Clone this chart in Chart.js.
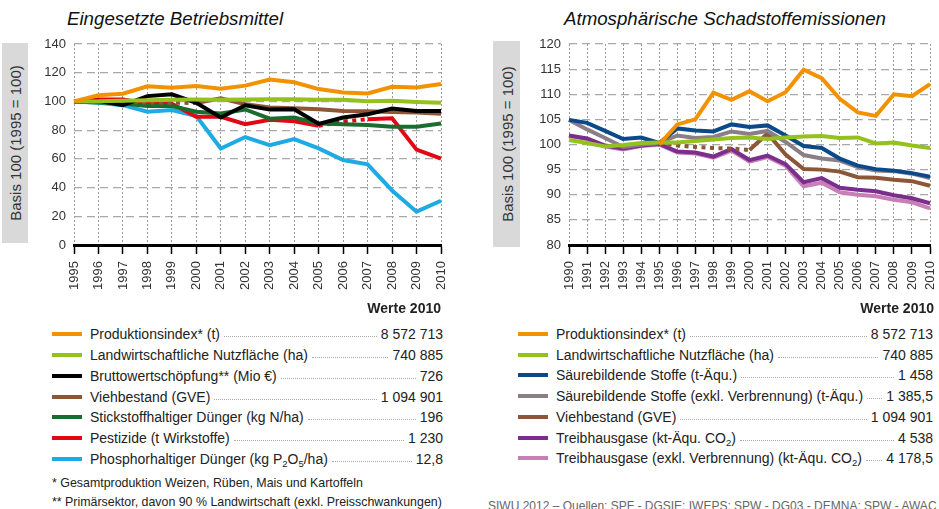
<!DOCTYPE html>
<html><head><meta charset="utf-8">
<script src="https://cdn.jsdelivr.net/npm/chart.js@4"></script>
<style>
html,body{margin:0;padding:0}
body{width:939px;height:509px;overflow:hidden;background:#fff;position:relative;font-family:"Liberation Sans",Arial,sans-serif;color:#222}
.abs{position:absolute}
.title{font-family:"Liberation Sans",Arial,sans-serif;font-style:italic;font-size:18.7px;color:#111;white-space:nowrap}
.ybox{background:#d9d9d9}
.ybox span{position:absolute;left:50%;top:50%;transform:translate(-50%,-50%) rotate(-90deg);white-space:nowrap;font-size:15px;color:#333}
.werte{font-weight:bold;font-size:14px;white-space:nowrap;text-align:right}
.legend .row{display:flex;align-items:center;height:20.75px;font-size:14px;white-space:nowrap}
.legend .sw{width:30px;height:4px;margin-right:8px;flex:none}
.legend .lead{flex:1;border-bottom:1px dotted #aaa;margin:5px 4px 0 4px;height:0}
.legend sub{font-size:9.5px;vertical-align:-3px;line-height:0}
.foot{font-size:12.4px;white-space:nowrap;color:#222}
.src{font-size:12px;white-space:nowrap;color:#666}
canvas{position:absolute}
</style>
</head><body>
<div class="abs title" style="left:67px;top:8px">Eingesetzte Betriebsmittel</div>
<div class="abs title" style="left:564px;top:8px">Atmosphärische Schadstoffemissionen</div>
<div class="abs ybox" style="left:2px;top:43px;width:26px;height:200px"><span>Basis 100 (1995 = 100)</span></div>
<div class="abs ybox" style="left:493px;top:41px;width:27px;height:206px"><span>Basis 100 (1995 = 100)</span></div>
<canvas id="c1" width="470" height="320" style="left:0;top:0"></canvas>
<canvas id="c2" width="483" height="320" style="left:470px;top:0"></canvas>
<div class="abs werte" style="right:498px;top:300px">Werte 2010</div>
<div class="abs werte" style="right:5px;top:300px">Werte 2010</div>
<div class="abs legend" id="leg1" style="left:52px;top:324px;width:391px"></div>
<div class="abs legend" id="leg2" style="left:518px;top:323.5px;width:415px"></div>
<div class="abs foot" style="left:52px;top:476px">* Gesamtproduktion Weizen, Rüben, Mais und Kartoffeln</div>
<div class="abs foot" style="left:52px;top:495px">** Primärsektor, davon 90 % Landwirtschaft (exkl. Preisschwankungen)</div>
<div class="abs src" style="left:488px;top:499px">SIWU 2012 – Quellen: SPF - DGSIE; IWEPS; SPW - DG03 - DEMNA; SPW - AWAC</div>
<script>
// ---------- Data: left chart (1995-2010) ----------
const yearsLeft = ["1995","1996","1997","1998","1999","2000","2001","2002","2003","2004","2005","2006","2007","2008","2009","2010"];
const produktionLeft = [100, 104.3, 105.4, 110.5, 109.6, 110.8, 108.8, 111.0, 115.2, 113.3, 108.6, 106.3, 105.6, 110.2, 109.7, 112.1];
const nutzflaecheLeft = [100, 100.2, 100.5, 100.9, 101.2, 101.3, 101.1, 101.3, 101.5, 101.6, 101.2, 101.2, 100.2, 100.4, 99.6, 99.1];
const bruttoLeft = [100, 100.5, 97.4, 103.7, 105.0, 99.0, 88.8, 97.3, 94.3, 94.6, 84.4, 88.8, 91.0, 95.0, 93.4, 93.4];
const viehLeft = [100, 99.8, 99.5, 99.3, 99.1, 98.9, 102.2, 98.0, 95.8, 95.2, 94.5, 93.3, 93.1, 92.7, 92.3, 91.5];
const stickstoffLeft = [100, 99.2, 98.5, 96.8, 96.8, 92.8, 91.6, 94.4, 88.0, 88.8, 84.6, 84.1, 83.6, 82.4, 82.4, 84.6];
const pestizideLeft = [100, 101.3, 101.3, 98.4, 98.4, 89.3, 89.3, 84.2, 87.2, 86.2, 83.0, 86.0, 87.6, 88.2, 66.4, 60.2];
const phosphorLeft = [100, 99.0, 97.4, 92.8, 94.0, 89.8, 67.2, 75.2, 69.6, 73.8, 67.3, 59.2, 56.2, 38.0, 23.2, 30.8];

// ---------- Data: right chart (1990-2010) ----------
const yearsRight = ["1990","1991","1992","1993","1994","1995","1996","1997","1998","1999","2000","2001","2002","2003","2004","2005","2006","2007","2008","2009","2010"];
const produktionRight = [null, null, null, null, null, 100, 104.0, 105.0, 110.3, 108.9, 110.6, 108.6, 110.4, 114.9, 113.2, 109.1, 106.4, 105.7, 110.0, 109.6, 112.0];
const nutzflaecheRight = [100.9, 100.3, 99.6, 99.9, 100.3, 100.4, 100.4, 100.7, 101.0, 101.3, 101.4, 101.1, 101.4, 101.6, 101.7, 101.3, 101.4, 100.2, 100.4, 99.8, 99.3];
const saeureRight = [104.9, 104.3, 102.7, 101.1, 101.4, 100.3, 103.2, 102.8, 102.6, 104.0, 103.5, 103.8, 101.8, 99.7, 99.3, 97.2, 95.8, 95.1, 94.8, 94.3, 93.6];
const saeureExklRight = [104.9, 103.0, 101.3, 99.5, 100.0, 100.3, 101.8, 101.3, 101.5, 102.6, 102.1, 102.7, 100.5, 97.9, 97.2, 96.8, 95.5, 94.8, 94.7, 94.2, 93.3];
const viehRight = [null, null, null, null, null, 100.3, 99.8, 99.5, 99.3, 99.2, 98.9, 102.2, 98.0, 95.1, 95.0, 94.6, 93.5, 93.4, 93.0, 92.7, 91.8];
const treibhausRight = [101.8, 101.2, 99.8, 99.2, 99.8, 100.1, 98.6, 98.4, 97.6, 99.1, 96.9, 97.8, 96.1, 92.5, 93.3, 91.4, 91.0, 90.7, 89.9, 89.3, 88.3];
const treibhausExklRight = [101.7, 101.1, 99.6, 99.0, 99.7, 100.0, 98.4, 98.2, 97.4, 98.8, 96.6, 97.5, 95.8, 91.7, 92.4, 90.5, 90.0, 89.7, 89.0, 88.5, 87.3];

// ---------- Legend text ----------
const legendLeftLabels = ["Produktionsindex* (t)","Landwirtschaftliche Nutzfläche (ha)","Bruttowertschöpfung** (Mio €)","Viehbestand (GVE)","Stickstoffhaltiger Dünger (kg N/ha)","Pestizide (t Wirkstoffe)","Phosphorhaltiger Dünger (kg P<sub>2</sub>O<sub>5</sub>/ha)"];
const legendLeftValues = ["8 572 713","740 885","726","1 094 901","196","1 230","12,8"];
const legendRightLabels = ["Produktionsindex* (t)","Landwirtschaftliche Nutzfläche (ha)","Säurebildende Stoffe (t-Äqu.)","Säurebildende Stoffe (exkl. Verbrennung) (t-Äqu.)","Viehbestand (GVE)","Treibhausgase (kt-Äqu. CO<sub>2</sub>)","Treibhausgase (exkl. Verbrennung) (kt-Äqu. CO<sub>2</sub>)"];
const legendRightValues = ["8 572 713","740 885","1 458","1 385,5","1 094 901","4 538","4 178,5"];

const yTicksLeft = {min:0, max:140, step:20};
const yTicksRight = {min:80, max:120, step:5};

// ---------- Colours ----------
const C = {orange:"#f39200", lime:"#95c11f", black:"#000000", brown:"#8c5637", green:"#1b6d2f", red:"#e30613", cyan:"#1eaae2", navy:"#0b4a8a", grey:"#8b7f87", purple:"#7b2f8c", pink:"#c97fb5"};

const leftSeries = [
  {data:produktionLeft, color:C.orange},
  {data:nutzflaecheLeft, color:C.lime},
  {data:bruttoLeft, color:C.black},
  {data:viehLeft, color:C.brown, dotted:(i0,i1)=>i1<=5},
  {data:stickstoffLeft, color:C.green},
  {data:pestizideLeft, color:C.red, dotted:(i0,i1)=>i0>=10 && i1<=12},
  {data:phosphorLeft, color:C.cyan}
];
const rightSeries = [
  {data:produktionRight, color:C.orange},
  {data:nutzflaecheRight, color:C.lime},
  {data:saeureRight, color:C.navy},
  {data:saeureExklRight, color:C.grey},
  {data:viehRight, color:C.brown, dotted:(i0,i1)=>i1<=10},
  {data:treibhausRight, color:C.purple},
  {data:treibhausExklRight, color:C.pink}
];

const FONT = '"Liberation Sans", Arial, sans-serif';

function buildDatasets(series, labels){
  return series.map((s,k)=>({
    label: labels[k].replace(/<[^>]+>/g,''),
    data: s.data,
    borderColor: s.color,
    backgroundColor: s.color,
    borderWidth: 4,
    pointRadius: 0,
    tension: 0,
    fill: false,
    spanGaps: false,
    borderCapStyle: 'butt',
    segment: s.dotted ? {borderDash: ctx => s.dotted(ctx.p0DataIndex, ctx.p1DataIndex) ? [4,4.5] : undefined} : undefined
  }));
}

function makeChart(id, labels, series, legendLabels, yt, yWidth, padRight){
  return new Chart(document.getElementById(id), {
    type:'line',
    data:{labels:labels, datasets:buildDatasets(series, legendLabels)},
    options:{
      responsive:false, animation:false, devicePixelRatio:1,
      layout:{padding:{top:44, right:padRight, left:0, bottom:0}},
      plugins:{legend:{display:false}, tooltip:{enabled:false}},
      scales:{
        x:{
          grid:{color:'#9a9a9a', lineWidth:1, tickLength:9, tickColor:'#000', tickWidth:1.5, drawTicks:true},
          border:{display:true, color:'#000', width:3, dash:[2,2], z:1},
          ticks:{autoSkip:false, maxRotation:90, minRotation:90, padding:7, color:'#333', font:{family:FONT, size:13}},
          afterFit: s => { s.height = 75; }
        },
        y:{
          min:yt.min, max:yt.max,
          grid:{color:'#a8a8a8', lineWidth:1.2, drawTicks:false},
          border:{display:false, dash:[8,5]},
          ticks:{stepSize:yt.step, padding:8, color:'#333', font:{family:FONT, size:13}},
          afterFit: s => { s.width = yWidth; }
        }
      }
    }
  });
}

makeChart('c1', yearsLeft, leftSeries, legendLeftLabels, yTicksLeft, 74, 29);
makeChart('c2', yearsRight, rightSeries, legendRightLabels, yTicksRight, 99, 23);

function buildLegend(id, series, labels, values){
  const el = document.getElementById(id);
  labels.forEach((t,i)=>{
    const row = document.createElement('div');
    row.className='row';
    row.innerHTML = '<div class="sw" style="background:'+series[i].color+'"></div><span>'+t+'</span><div class="lead"></div><span>'+values[i]+'</span>';
    el.appendChild(row);
  });
}
buildLegend('leg1', leftSeries, legendLeftLabels, legendLeftValues);
buildLegend('leg2', rightSeries, legendRightLabels, legendRightValues);
</script>
</body></html>
